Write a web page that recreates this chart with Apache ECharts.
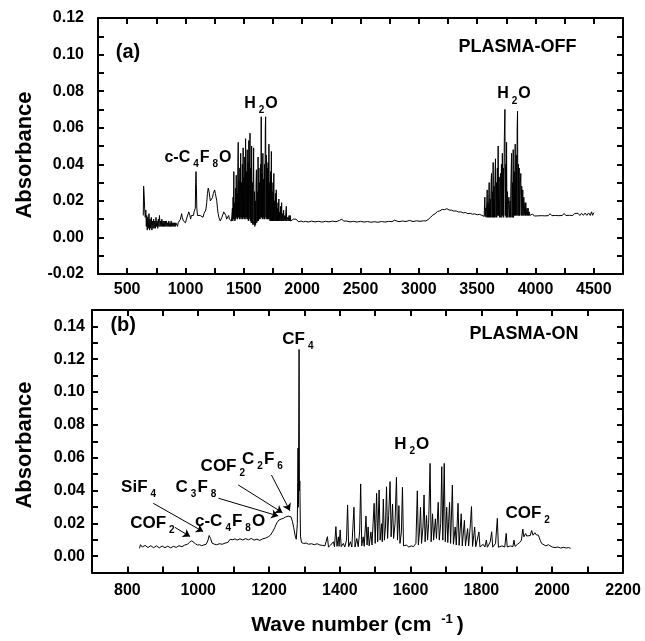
<!DOCTYPE html>
<html>
<head>
<meta charset="utf-8">
<script src="https://cdn.jsdelivr.net/npm/echarts@6/dist/echarts.min.js"></script>
<style>
  html, body { margin: 0; padding: 0; background: #fff; }
  #wrap { position: relative; width: 645px; height: 641px; }
  .pane { position: absolute; left: 0; width: 645px; }
</style>
</head>
<body>
<div id="wrap">
  <div id="offAxes" class="pane" style="top:0;height:300px"></div>
  <div id="offData" class="pane" style="top:0;height:300px"></div>
  <div id="onAxes" class="pane" style="top:300px;height:341px"></div>
  <div id="onData" class="pane" style="top:300px;height:341px"></div>
</div>
<script>
// (a) plasma off spectrum, [wave number, absorbance]
const plasmaOff = [
  [638,0.012],[641,0.028],[645,0.024],[650,0.016],[655,0.011],[660,0.015],[664,0.006],[668,0.012],[672,0.004],[677,0.011],
  [682,0.005],[687,0.013],[692,0.004],[697,0.010],[702,0.005],[707,0.011],[712,0.004],[717,0.009],[722,0.005],[727,0.010],
  [732,0.005],[737,0.009],[742,0.005],[747,0.011],[752,0.006],[757,0.009],[762,0.005],[767,0.010],[772,0.006],[777,0.012],
  [782,0.006],[787,0.009],[792,0.006],[797,0.010],[802,0.006],[807,0.009],[812,0.006],[817,0.009],[822,0.006],[827,0.009],
  [832,0.006],[837,0.009],[842,0.006],[847,0.008],[852,0.006],[857,0.009],[862,0.006],[867,0.008],[872,0.006],[877,0.009],
  [882,0.006],[887,0.008],[892,0.006],[897,0.008],[902,0.006],[907,0.008],[912,0.006],[917,0.008],[922,0.007],[927,0.008],
  [932,0.006],[937,0.008],[942,0.007],[947,0.009],[952,0.008],[957,0.010],[962,0.011],[967,0.013],[972,0.011],[977,0.012],
  [982,0.009],[987,0.010],[992,0.008],[996,0.009],
  [1000,0.008],[1008,0.010],[1015,0.009],[1022,0.011],[1028,0.014],[1033,0.015],[1038,0.012],[1044,0.010],[1050,0.012],
  [1056,0.011],[1062,0.013],[1068,0.012],[1074,0.014],[1080,0.013],[1084,0.016],[1087,0.030],[1090,0.036],[1093,0.029],
  [1097,0.016],[1103,0.012],[1110,0.013],[1118,0.011],[1126,0.012],[1134,0.011],[1142,0.012],[1150,0.011],[1158,0.013],
  [1166,0.012],[1174,0.015],[1182,0.019],[1188,0.024],[1195,0.027],[1202,0.025],[1208,0.022],[1214,0.020],[1220,0.021],
  [1226,0.020],[1232,0.022],[1238,0.024],[1244,0.023],[1250,0.026],[1256,0.024],[1262,0.025],[1268,0.020],[1274,0.016],
  [1280,0.013],[1286,0.011],[1292,0.010],[1298,0.009],[1305,0.010],[1312,0.011],[1320,0.012],[1328,0.014],[1334,0.015],
  [1340,0.013],[1346,0.012],[1352,0.010],[1358,0.011],[1364,0.010],[1370,0.012],[1376,0.010],[1382,0.009],[1388,0.011],
  [1394,0.009],
  // H2O bending band
  [1398,0.010],[1402,0.016],[1405,0.009],[1408,0.022],[1411,0.010],[1414,0.036],[1417,0.010],[1421,0.019],[1424,0.009],
  [1428,0.027],[1431,0.010],[1435,0.034],[1438,0.011],[1442,0.024],[1445,0.010],[1449,0.041],[1452,0.052],[1455,0.011],
  [1459,0.031],[1462,0.010],[1466,0.038],[1469,0.011],[1473,0.046],[1476,0.010],[1480,0.030],[1483,0.011],[1487,0.040],
  [1490,0.010],[1494,0.049],[1497,0.011],[1501,0.033],[1504,0.010],[1508,0.044],[1511,0.011],[1515,0.054],[1518,0.010],
  [1522,0.036],[1525,0.011],[1529,0.048],[1532,0.010],[1536,0.041],[1539,0.009],[1543,0.053],[1546,0.010],[1550,0.043],
  [1553,0.057],[1556,0.009],[1560,0.038],[1563,0.008],[1567,0.050],[1570,0.008],[1574,0.030],[1577,0.007],[1581,0.006],
  [1584,0.049],[1587,0.007],[1591,0.025],[1594,0.006],[1598,0.020],[1601,0.007],[1605,0.030],[1608,0.037],[1611,0.008],
  [1615,0.025],[1618,0.009],[1622,0.044],[1625,0.009],[1629,0.038],[1632,0.010],[1636,0.030],[1639,0.010],[1643,0.040],
  [1646,0.011],[1649,0.066],[1652,0.011],[1656,0.035],[1659,0.010],[1663,0.046],[1666,0.011],[1670,0.032],[1673,0.010],
  [1677,0.040],[1680,0.010],[1684,0.060],[1687,0.066],[1690,0.011],[1694,0.045],[1697,0.010],[1701,0.038],[1704,0.010],
  [1708,0.041],[1711,0.010],[1715,0.051],[1718,0.010],[1722,0.030],[1725,0.009],[1729,0.036],[1732,0.009],[1736,0.047],
  [1739,0.009],[1743,0.025],[1746,0.009],[1750,0.030],[1753,0.009],[1757,0.035],[1760,0.009],[1764,0.020],[1767,0.009],
  [1771,0.024],[1774,0.009],[1778,0.026],[1781,0.009],[1786,0.016],[1789,0.009],[1793,0.019],[1796,0.009],[1800,0.021],
  [1803,0.009],[1808,0.014],[1811,0.009],[1816,0.017],[1819,0.009],[1824,0.019],[1827,0.009],[1833,0.013],[1836,0.009],
  [1841,0.015],[1844,0.009],[1852,0.012],[1855,0.009],[1864,0.017],[1867,0.009],[1876,0.011],[1879,0.009],[1888,0.012],
  [1891,0.009],[1898,0.012],[1901,0.009],[1912,0.010],[1915,0.009],[1925,0.010],[1928,0.009],[1936,0.011],[1939,0.009],
  [1948,0.010],[1952,0.009],
  [1970,0.0085],[1990,0.0090],[2010,0.0085],[2030,0.0088],[2050,0.0084],[2080,0.0089],[2110,0.0085],[2140,0.0088],
  [2170,0.0084],[2200,0.0088],[2230,0.0085],[2260,0.0089],[2290,0.0086],[2320,0.0093],[2340,0.0100],[2355,0.0089],
  [2380,0.0090],[2410,0.0085],[2440,0.0088],[2470,0.0084],[2500,0.0088],[2530,0.0084],[2560,0.0087],[2590,0.0083],
  [2620,0.0086],[2650,0.0083],[2680,0.0087],[2710,0.0084],[2740,0.0088],[2770,0.0086],[2790,0.0094],[2800,0.0088],
  [2830,0.0086],[2860,0.0090],[2890,0.0087],[2920,0.0093],[2950,0.0087],[2980,0.0091],[3010,0.0088],[3040,0.0091],
  // broad OH bump
  [3060,0.0090],[3080,0.0098],[3100,0.0110],[3120,0.0122],[3140,0.0130],[3160,0.0142],[3180,0.0145],[3200,0.0153],
  [3220,0.0152],[3240,0.0157],[3260,0.0150],[3280,0.0149],[3300,0.0144],[3320,0.0145],[3340,0.0139],[3360,0.0140],
  [3380,0.0134],[3400,0.0136],[3420,0.0130],[3440,0.0132],[3460,0.0127],[3480,0.0129],[3500,0.0124],[3520,0.0126],
  [3540,0.0121],
  // H2O stretching band
  [3550,0.0120],[3560,0.0115],[3563,0.018],[3566,0.022],[3569,0.0115],[3574,0.016],[3577,0.011],[3583,0.020],[3586,0.026],
  [3589,0.011],[3594,0.019],[3597,0.011],[3600,0.024],[3603,0.030],[3606,0.011],[3611,0.021],[3614,0.011],[3620,0.031],
  [3623,0.035],[3626,0.011],[3630,0.025],[3633,0.011],[3637,0.041],[3640,0.011],[3645,0.028],[3648,0.011],[3654,0.036],
  [3657,0.043],[3660,0.011],[3665,0.030],[3668,0.011],[3673,0.038],[3676,0.012],[3680,0.050],[3683,0.012],[3688,0.033],
  [3691,0.011],[3697,0.030],[3700,0.035],[3703,0.011],[3708,0.040],[3711,0.011],[3716,0.046],[3719,0.012],[3724,0.038],
  [3727,0.011],[3733,0.055],[3738,0.070],[3741,0.012],[3746,0.040],[3749,0.011],[3752,0.052],[3755,0.011],[3760,0.025],
  [3763,0.011],[3768,0.018],[3772,0.022],[3776,0.011],[3782,0.020],[3785,0.011],[3791,0.035],[3795,0.046],[3798,0.011],
  [3803,0.030],[3806,0.011],[3809,0.048],[3812,0.011],[3818,0.036],[3821,0.012],[3826,0.051],[3829,0.012],[3836,0.045],
  [3839,0.012],[3843,0.060],[3846,0.069],[3849,0.012],[3854,0.040],[3857,0.012],[3860,0.038],[3863,0.012],[3870,0.030],
  [3874,0.035],[3877,0.012],[3882,0.028],[3885,0.012],[3891,0.026],[3894,0.012],[3900,0.022],[3903,0.012],[3910,0.019],
  [3914,0.012],[3917,0.019],[3920,0.012],[3928,0.016],[3931,0.012],[3937,0.016],[3940,0.012],[3946,0.014],[3950,0.012],
  [3960,0.0118],[3975,0.0128],[3990,0.0117],[4005,0.0127],[4020,0.0118],[4035,0.0128],[4050,0.0119],[4065,0.0129],
  [4080,0.0118],[4095,0.0128],[4110,0.0119],[4125,0.0130],[4140,0.0119],[4155,0.0129],[4170,0.0120],[4185,0.0130],
  [4200,0.0119],[4215,0.0129],[4230,0.0120],[4245,0.0131],[4260,0.0120],[4275,0.0130],[4290,0.0121],[4305,0.0131],
  [4320,0.0120],[4335,0.0131],[4350,0.0121],[4365,0.0132],[4380,0.0120],[4395,0.0132],[4410,0.0121],[4425,0.0133],
  [4440,0.0121],[4455,0.0134],[4470,0.0120],[4480,0.0140],[4490,0.0121],[4500,0.0136]
];

// (b) plasma on spectrum
const plasmaOn = [
  [834,0.0050],[837,0.0072],[842,0.0058],[850,0.0068],[858,0.0055],[866,0.0066],[874,0.0054],[882,0.0065],[890,0.0053],
  [898,0.0064],[906,0.0054],[914,0.0063],[922,0.0053],[930,0.0062],[938,0.0056],[946,0.0066],[954,0.0060],[962,0.0070],
  [970,0.0075],[976,0.0088],[982,0.0096],[986,0.0090],[992,0.0078],[998,0.0070],[1004,0.0072],[1010,0.0066],[1016,0.0071],
  [1022,0.0074],[1027,0.0095],[1031,0.0128],[1035,0.0110],[1039,0.0082],[1045,0.0076],[1052,0.0072],[1060,0.0078],
  [1068,0.0075],[1076,0.0082],[1084,0.0086],[1090,0.0105],[1094,0.0115],[1098,0.0102],[1104,0.0108],[1110,0.0100],
  [1118,0.0108],[1126,0.0101],[1134,0.0109],[1142,0.0102],[1150,0.0110],[1158,0.0100],[1166,0.0106],[1174,0.0098],
  [1182,0.0108],[1190,0.0112],[1198,0.0120],[1204,0.0130],[1210,0.0150],[1216,0.0175],[1222,0.0205],[1228,0.0222],
  [1234,0.0228],[1240,0.0232],[1246,0.0240],[1250,0.0238],[1254,0.0246],[1258,0.0250],[1262,0.0242],[1266,0.0215],
  [1270,0.0175],[1274,0.0125],[1277,0.0105],[1280,0.0200],[1282,0.0660],[1283,0.0300],[1285,0.1260],[1286,0.0400],
  [1287,0.0460],[1289,0.0120],[1292,0.0085],[1298,0.0080],[1305,0.0082],[1312,0.0075],[1320,0.0078],[1328,0.0072],
  [1336,0.0078],[1340,0.0086],[1344,0.0070],[1352,0.0068],[1358,0.0065],
  [1362,0.0060],[1365,0.0121],[1368,0.0058],[1374,0.0070],[1377,0.0060],[1382,0.0090],[1385,0.0060],[1389,0.0182],
  [1392,0.0062],[1396,0.0120],[1398,0.0062],[1401,0.0162],[1404,0.0060],[1410,0.0080],[1414,0.0058],[1419,0.0100],
  [1422,0.0314],[1425,0.0060],[1430,0.0090],[1434,0.0058],[1440,0.0300],[1443,0.0058],[1448,0.0110],[1452,0.0060],
  [1456,0.0150],[1459,0.0442],[1462,0.0065],[1466,0.0120],[1469,0.0062],[1474,0.0247],[1477,0.0070],[1480,0.0180],
  [1483,0.0065],[1488,0.0150],[1491,0.0070],[1494,0.0200],[1497,0.0324],[1500,0.0080],[1504,0.0385],[1507,0.0090],
  [1511,0.0405],[1514,0.0100],[1518,0.0200],[1520,0.0090],[1523,0.0350],[1526,0.0100],[1529,0.0180],[1532,0.0425],
  [1535,0.0110],[1538,0.0250],[1542,0.0456],[1545,0.0120],[1549,0.0320],[1552,0.0110],[1556,0.0200],[1560,0.0482],
  [1563,0.0100],[1567,0.0310],[1570,0.0080],[1574,0.0150],[1577,0.0421],[1580,0.0065],[1588,0.0070],[1595,0.0058],
  [1602,0.0065],[1608,0.0060],[1615,0.0080],[1619,0.0400],[1622,0.0070],[1625,0.0150],[1628,0.0300],[1631,0.0080],
  [1635,0.0180],[1638,0.0375],[1641,0.0090],[1645,0.0250],[1648,0.0100],[1651,0.0200],[1655,0.0567],[1658,0.0090],
  [1662,0.0260],[1665,0.0100],[1670,0.0230],[1673,0.0110],[1678,0.0330],[1681,0.0100],[1685,0.0200],[1688,0.0547],
  [1691,0.0100],[1695,0.0567],[1698,0.0090],[1702,0.0300],[1705,0.0085],[1710,0.0330],[1713,0.0080],[1718,0.0435],
  [1721,0.0075],[1726,0.0180],[1729,0.0070],[1734,0.0324],[1737,0.0068],[1743,0.0260],[1746,0.0065],[1752,0.0220],
  [1755,0.0065],[1761,0.0170],[1764,0.0065],[1769,0.0200],[1772,0.0304],[1775,0.0062],[1781,0.0180],[1784,0.0060],
  [1793,0.0150],[1796,0.0058],[1805,0.0075],[1810,0.0058],[1814,0.0100],[1817,0.0057],[1825,0.0090],[1829,0.0151],
  [1832,0.0057],[1840,0.0080],[1845,0.0233],[1848,0.0057],[1858,0.0065],[1866,0.0058],[1870,0.0141],[1873,0.0058],
  [1882,0.0065],[1889,0.0060],[1892,0.0100],[1895,0.0062],[1902,0.0075],[1908,0.0085],[1913,0.0100],[1917,0.0167],
  [1920,0.0120],[1925,0.0140],[1928,0.0125],[1933,0.0135],[1938,0.0128],[1942,0.0158],[1946,0.0130],[1951,0.0145],
  [1955,0.0132],[1961,0.0130],[1966,0.0100],[1970,0.0080],[1975,0.0070],[1982,0.0065],[1989,0.0072],[1993,0.0060],
  [2000,0.0058],[2008,0.0055],[2016,0.0058],[2024,0.0052],[2032,0.0056],[2040,0.0052],[2046,0.0055],[2052,0.0050]
];

// tick labels
const offXLabels = [500, 1000, 1500, 2000, 2500, 3000, 3500, 4000, 4500];
const offYLabels = ['-0.02', '0.00', '0.02', '0.04', '0.06', '0.08', '0.10', '0.12'];
const onXLabels = [800, 1000, 1200, 1400, 1600, 1800, 2000, 2200];
const onYLabels = ['0.00', '0.02', '0.04', '0.06', '0.08', '0.10', '0.12', '0.14'];

// annotations (text, [wave number, absorbance])
const offNotes = [
  ['{p|(a)}', [507, 0.1014]],
  ['{P|PLASMA-OFF}', [3845, 0.1043]],
  ['{n|c-C}{s|4}{n|F}{s|8}{n|O}', [1107, 0.0437]],
  ['{n|H}{s|2}{n|O}', [1647, 0.0732]],
  ['{n|H}{s|2}{n|O}', [3815, 0.0784]]
];
const onNotes = [
  ['{p|(b)}', [788, 0.1403]],
  ['{P|PLASMA-ON}', [1920, 0.1351]],
  ['{N|CF}{s|4}', [1283, 0.1324]],
  ['{N|H}{s|2}{N|O}', [1603, 0.0685]],
  ['{N|COF}{s|2}', [1932, 0.0265]],
  ['{N|C}{s|2}{N|F}{s|6}', [1183, 0.0594]],
  ['{N|COF}{s|2}', [1071, 0.0548]],
  ['{N|C}{s|3}{N|F}{s|8}', [995, 0.0423]],
  ['{N|SiF}{s|4}', [833, 0.0423]],
  ['{N|COF}{s|2}', [872, 0.0204]],
  ['{N|c-C}{s|4}{N|F}{s|8}{N|O}', [1090, 0.0217]]
];
const onArrows = [
  [[934, 0.0178], [977, 0.0122]],
  [[873, 0.0324], [1014, 0.0152]],
  [[1057, 0.0355], [1226, 0.0247]],
  [[1113, 0.0436], [1238, 0.0267]],
  [[1207, 0.0496], [1259, 0.0279]]
];

const FONT = '"Liberation Sans", Arial, sans-serif';

const rich = {
  n: { fontFamily: FONT, fontWeight: 'bold', fontSize: 16, color: '#000', lineHeight: 24 },
  N: { fontFamily: FONT, fontWeight: 'bold', fontSize: 17, color: '#000', lineHeight: 24 },
  s: { fontFamily: FONT, fontWeight: 'bold', fontSize: 10, color: '#000', lineHeight: 10, verticalAlign: 'bottom', padding: [0, 1, 0, 3] },
  p: { fontFamily: FONT, fontWeight: 'bold', fontSize: 20, color: '#000', lineHeight: 24 },
  P: { fontFamily: FONT, fontWeight: 'bold', fontSize: 18, color: '#000', lineHeight: 24 }
};

const offGrid = { left: 98, top: 18, width: 525, height: 256 };
const onGrid = { left: 92, top: 10, width: 531, height: 263 };

function fmtY(labels) {
  return function (v) {
    let s = v.toFixed(2);
    if (s === '-0.00') s = '0.00';
    return labels.includes(s) ? s : '';
  };
}
function fmtX(labels) {
  return function (v) {
    const r = Math.round(v);
    return labels.includes(r) ? String(r) : '';
  };
}

function axis(pos, min, max, step, fmt, margin) {
  return {
    type: 'value',
    position: pos,
    min: min,
    max: max,
    interval: step,
    axisLine: { show: true, onZero: false, lineStyle: { color: '#000', width: 2 } },
    axisTick: { show: true, inside: true, length: 6, lineStyle: { color: '#000', width: 2 } },
    axisLabel: fmt ? {
      show: true, formatter: fmt, margin: margin, color: '#000',
      fontFamily: FONT, fontWeight: 'bold', fontSize: 16,
      showMinLabel: true, showMaxLabel: true
    } : { show: false },
    splitLine: { show: false }
  };
}

// hidden axes for the data layer, same scale as the frame
function hidden(min, max) {
  return { type: 'value', min: min, max: max, show: false, splitLine: { show: false } };
}

function notes(list) {
  return {
    silent: true,
    animation: false,
    symbol: 'circle',
    symbolSize: 0,
    label: { show: true, position: 'inside', rich: rich },
    data: list.map((it) => ({ coord: it[1], label: { formatter: it[0] } }))
  };
}

function yTitle(y) {
  return {
    type: 'text', x: 25, y: y, rotation: Math.PI / 2, silent: true,
    style: { text: 'Absorbance', fill: '#000', font: 'bold 22px "Liberation Sans", Arial, sans-serif',
      align: 'center', verticalAlign: 'middle', textAlign: 'center', textVerticalAlign: 'middle' }
  };
}

// 上图 plasma off: 坐标框
echarts.init(document.getElementById('offAxes')).setOption({
  animation: false,
  grid: offGrid,
  xAxis: [
    axis('bottom', 250, 4750, 250, fmtX(offXLabels), 8),
    axis('top', 250, 4750, 250, null)
  ],
  yAxis: [
    axis('left', -0.02, 0.12, 0.01, fmtY(offYLabels), 14),
    axis('right', -0.02, 0.12, 0.01, null)
  ],
  graphic: [yTitle(155)],
  series: [{ type: 'line', data: [], silent: true }]
});

// 上图 数据层
echarts.init(document.getElementById('offData')).setOption({
  animation: false,
  backgroundColor: 'transparent',
  grid: offGrid,
  xAxis: hidden(250, 4750),
  yAxis: hidden(-0.02, 0.12),
  series: [
    {
      name: 'PLASMA-OFF',
      type: 'line',
      data: plasmaOff,
      showSymbol: false,
      symbol: 'none',
      silent: true,
      lineStyle: { color: '#000', width: 1 },
      markPoint: notes(offNotes)
    }
  ]
});

// 下图 plasma on: 坐标框
echarts.init(document.getElementById('onAxes')).setOption({
  animation: false,
  grid: onGrid,
  xAxis: [
    Object.assign(axis('bottom', 700, 2200, 100, fmtX(onXLabels), 10), {
      name: '{w|Wave number (cm }{u|-1}{w|)}',
      nameLocation: 'middle',
      nameGap: 40,
      nameTextStyle: {
        rich: {
          w: { fontFamily: FONT, fontWeight: 'bold', fontSize: 21, color: '#000', lineHeight: 26 },
          u: { fontFamily: FONT, fontWeight: 'bold', fontSize: 13, color: '#000', lineHeight: 13, verticalAlign: 'top', padding: [0, 4, 0, 4] }
        }
      }
    }),
    axis('top', 700, 2200, 100, null)
  ],
  yAxis: [
    axis('left', -0.01, 0.15, 0.01, fmtY(onYLabels), 7),
    axis('right', -0.01, 0.15, 0.01, null)
  ],
  graphic: [yTitle(145)],
  series: [{ type: 'line', data: [], silent: true }]
});

// 下图 数据层
echarts.init(document.getElementById('onData')).setOption({
  animation: false,
  backgroundColor: 'transparent',
  grid: onGrid,
  xAxis: hidden(700, 2200),
  yAxis: hidden(-0.01, 0.15),
  series: [
    {
      name: 'PLASMA-ON',
      type: 'line',
      data: plasmaOn,
      showSymbol: false,
      symbol: 'none',
      silent: true,
      lineStyle: { color: '#000', width: 1 },
      markPoint: notes(onNotes),
      markLine: {
        silent: true,
        animation: false,
        symbol: ['none', 'arrow'],
        symbolSize: 7,
        label: { show: false },
        lineStyle: { color: '#000', width: 1, type: 'solid' },
        data: onArrows.map((a) => [{ coord: a[0] }, { coord: a[1] }])
      }
    }
  ]
});
</script>
</body>
</html>
